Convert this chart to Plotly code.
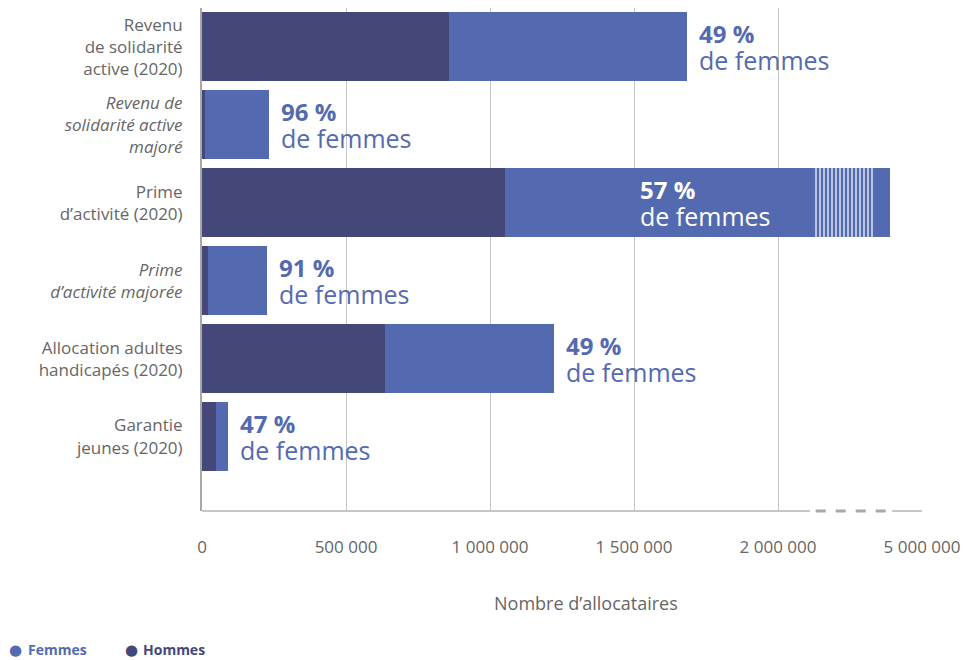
import plotly.graph_objects as go

categories = [
    "Revenu<br>de solidarité<br>active (2020)",
    "<i>Revenu de<br>solidarité active<br>majoré</i>",
    "Prime<br>d’activité (2020)",
    "<i>Prime<br>d’activité majorée</i>",
    "Allocation adultes<br>handicapés (2020)",
    "Garantie<br>jeunes (2020)",
]
hommes = [858000, 9000, 1052000, 20000, 636000, 48000]
femmes = [826000, 224000, 1337000, 206000, 586000, 42000]
part_femmes = [49, 96, 57, 91, 49, 47]

tick_vals = [0, 500000, 1000000, 1500000, 2000000, 2500000]
tick_text = ["0", "500 000", "1 000 000", "1 500 000", "2 000 000", "5 000 000"]

# coupure de l'axe (barre de la prime d'activité)
coupure_debut = 2125000
coupure_fin = 2330000
axe_coupe = (2111000, 2396000)

C_FEMMES = "#546AB0"
C_HOMMES = "#444878"
GRIS = "#666666"
FONT = "Open Sans"

y = list(range(len(categories)))

fig = go.Figure()
fig.add_trace(go.Bar(
    y=y, x=hommes, base=[0] * len(y), orientation="h", width=0.885,
    marker=dict(color=C_HOMMES, line=dict(width=0)), name="Hommes", showlegend=False,
))
fig.add_trace(go.Bar(
    y=y, x=femmes, base=hommes, orientation="h", width=0.885,
    marker=dict(color=C_FEMMES, line=dict(width=0)), name="Femmes", showlegend=False,
))
fig.add_trace(go.Bar(
    y=[2], x=[coupure_fin - coupure_debut], base=[coupure_debut], orientation="h", width=0.885,
    marker=dict(color=C_FEMMES, line=dict(width=0),
                pattern=dict(shape="|", fgcolor="white", size=4, solidity=0.3, fillmode="replace")),
    showlegend=False, hoverinfo="skip",
))

# étiquettes "xx % de femmes"
for i, (h, f, p) in enumerate(zip(hommes, femmes, part_femmes)):
    inside = i == 2
    x0 = h if inside else h + f
    dx = 133 if inside else 10
    col = "white" if inside else C_FEMMES
    fig.add_annotation(x=x0, y=i, text=f"<b>{p} %</b>", showarrow=False, xanchor="left",
                       xshift=dx, yshift=13, font=dict(family=FONT, size=24, color=col))
    fig.add_annotation(x=x0, y=i, text="de femmes", showarrow=False, xanchor="left",
                       xshift=dx, yshift=-13, font=dict(family=FONT, size=25, color=col))

# ligne de l'axe x avec coupure en pointillés
for a, b in [(0, axe_coupe[0]), (axe_coupe[1], 2500000)]:
    fig.add_shape(type="line", xref="x", yref="paper", x0=a, x1=b, y0=0, y1=0,
                  line=dict(color="#b5b5b5", width=1.5))
fig.add_shape(type="line", xref="x", yref="paper", x0=axe_coupe[0] + 20000, x1=axe_coupe[1], y0=0, y1=0,
              line=dict(color="#a8a8a8", width=3, dash="10px,10px"))

fig.add_annotation(xref="paper", yref="paper", x=0.533, y=-0.21, text="Nombre d’allocataires",
                   showarrow=False, font=dict(family=FONT, size=18, color=GRIS))

# légende
for x_pt, x_txt, nom, col in [(7, 26, "Femmes", C_FEMMES), (123, 141, "Hommes", C_HOMMES)]:
    fig.add_annotation(xref="paper", yref="paper", x=(x_pt - 202) / 720, y=-0.299, xanchor="left",
                       text="●", showarrow=False, font=dict(family="DejaVu Sans", size=15, color=col))
    fig.add_annotation(xref="paper", yref="paper", x=(x_txt - 202) / 720, y=-0.299, xanchor="left",
                       text=f"<b>{nom}</b>", showarrow=False, font=dict(family=FONT, size=14, color=col))

fig.update_layout(
    width=977, height=660,
    margin=dict(l=202, r=55, t=8, b=149),
    barmode="overlay", bargap=0,
    plot_bgcolor="white", paper_bgcolor="white",
    font=dict(family=FONT, color=GRIS),
)
fig.update_xaxes(
    range=[0, 2500000], tickvals=tick_vals, ticktext=tick_text,
    showgrid=True, gridcolor="#c4c4c4", gridwidth=1, zeroline=False, showline=False,
    tickfont=dict(family=FONT, size=17, color=GRIS), ticklabelstandoff=24,
)
fig.update_yaxes(
    range=[5.955, -0.5], tickvals=y, ticktext=categories,
    showgrid=False, zeroline=False, showline=True, linecolor="#a8a8a8", linewidth=2,
    tickfont=dict(family=FONT, size=17, color=GRIS), ticklabelstandoff=14,
)

fig.write_html("out.html", config={"displayModeBar": False},
               post_script="document.body.style.margin='0';")
